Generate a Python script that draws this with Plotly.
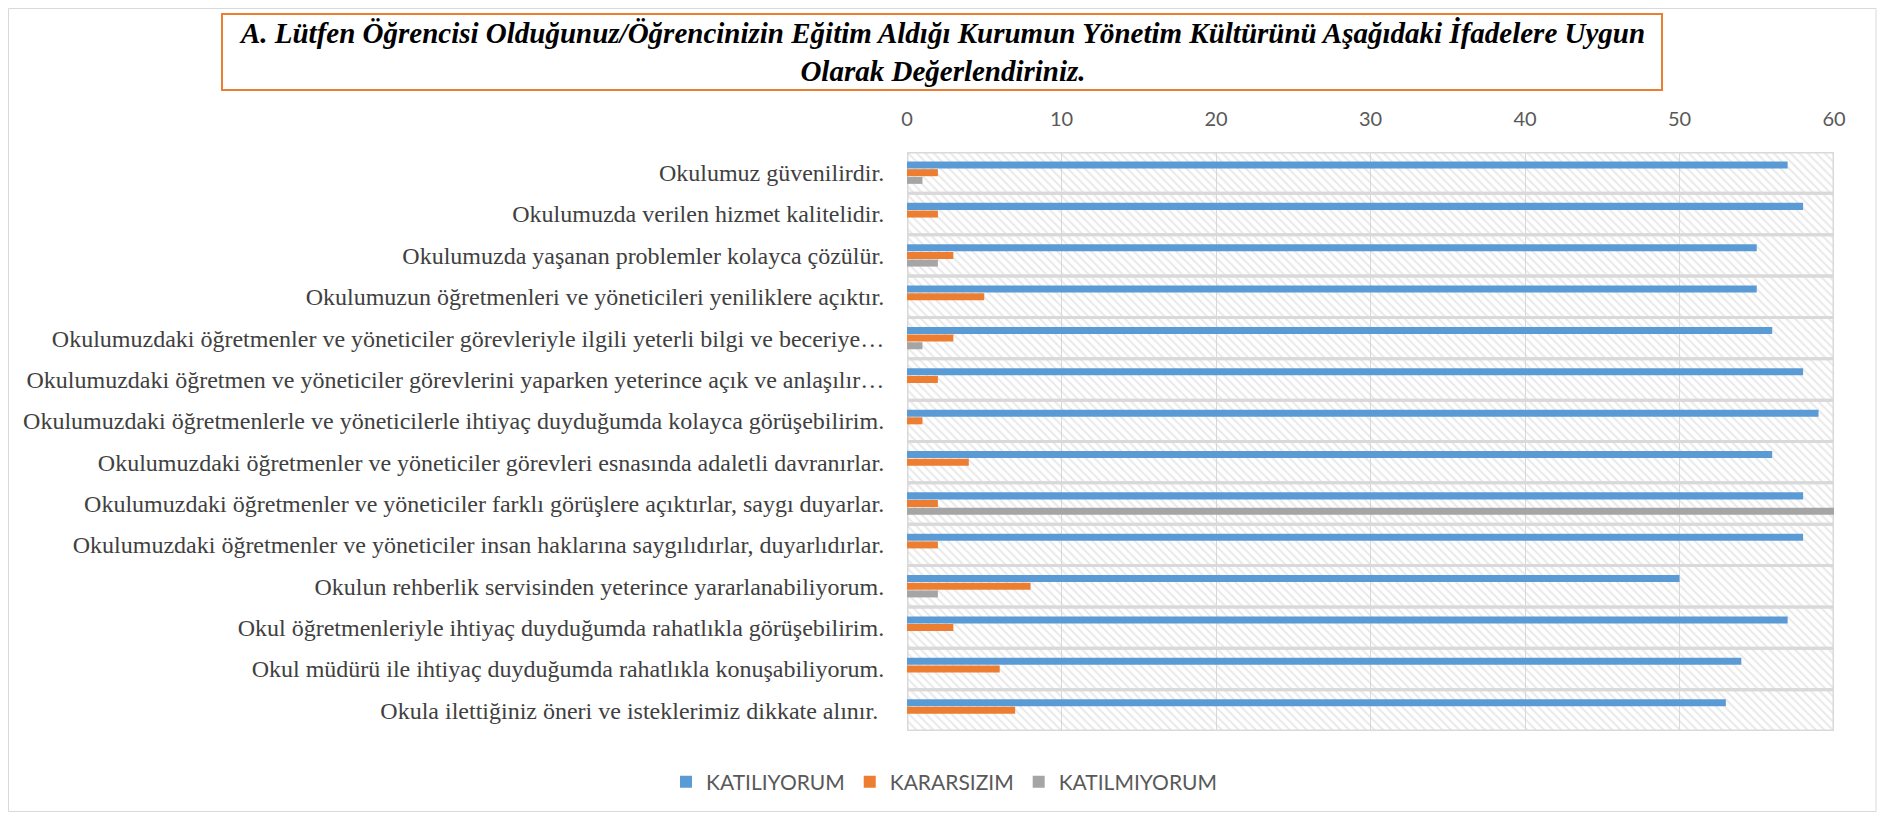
import plotly.graph_objects as go

categories = [
    "Okulumuz güvenilirdir.",
    "Okulumuzda verilen hizmet kalitelidir.",
    "Okulumuzda yaşanan problemler kolayca çözülür.",
    "Okulumuzun öğretmenleri ve yöneticileri yeniliklere açıktır.",
    "Okulumuzdaki öğretmenler ve yöneticiler görevleriyle ilgili yeterli bilgi ve beceriye…",
    "Okulumuzdaki öğretmen ve yöneticiler görevlerini yaparken yeterince açık ve anlaşılır…",
    "Okulumuzdaki öğretmenlerle ve yöneticilerle ihtiyaç duyduğumda kolayca görüşebilirim.",
    "Okulumuzdaki öğretmenler ve yöneticiler görevleri esnasında adaletli davranırlar.",
    "Okulumuzdaki öğretmenler ve yöneticiler farklı görüşlere açıktırlar, saygı duyarlar.",
    "Okulumuzdaki öğretmenler ve yöneticiler insan haklarına saygılıdırlar, duyarlıdırlar.",
    "Okulun rehberlik servisinden yeterince yararlanabiliyorum.",
    "Okul öğretmenleriyle ihtiyaç duyduğumda rahatlıkla görüşebilirim.",
    "Okul müdürü ile ihtiyaç duyduğumda rahatlıkla konuşabiliyorum.",
    "Okula ilettiğiniz öneri ve isteklerimiz dikkate alınır. ",
]
katiliyorum = [57, 58, 55, 55, 56, 58, 59, 56, 58, 58, 50, 57, 54, 53]
kararsizim = [2, 2, 3, 5, 3, 2, 1, 4, 2, 2, 8, 3, 6, 7]
katilmiyorum = [1, 0, 2, 0, 1, 0, 0, 0, 60, 0, 2, 0, 0, 0]

series_names = ["KATILIYORUM", "KARARSIZIM", "KATILMIYORUM"]
series_colors = ["#5B9BD5", "#ED7D31", "#A5A5A5"]
x_max = 60
x_ticks = [0, 10, 20, 30, 40, 50, 60]

# page has an 8px body margin; figure sized to fit inside the window
OFF = 8
W, H = 1888 - 2 * OFF, 820 - 2 * OFF
# plot area in page pixels
P_L, P_R, P_T, P_B = 907, 1834, 152, 731
ml = P_L - OFF
mr = W - (P_R - OFF)
mt = P_T - OFF
mb = H - (P_B - OFF)
pw, ph = W - ml - mr, H - mt - mb


def fx(page_x):
    return (page_x - OFF - ml) / pw


def fy(page_y):
    return (H - mb - (page_y - OFF)) / ph


fig = go.Figure()

# hatched plot-area background with band separators
fig.add_trace(go.Bar(
    y=categories, x=[x_max] * len(categories), orientation="h",
    width=1, offset=-0.5, showlegend=False, hoverinfo="skip",
    marker=dict(color="rgba(0,0,0,0)",
                line=dict(color="#D9D9D9", width=3),
                pattern=dict(shape="\\", fgcolor="#D4D4D4", bgcolor="rgba(0,0,0,0)",
                             size=6, solidity=0.35, fillmode="overlay")),
))

bar_w = 0.17
offsets = [-0.27, -0.085, 0.1]
for name, vals, col, off in zip(series_names, [katiliyorum, kararsizim, katilmiyorum], series_colors, offsets):
    fig.add_trace(go.Bar(
        y=categories, x=vals, orientation="h", name=name,
        width=bar_w, offset=off,
        marker=dict(color=col, line=dict(width=0)),
    ))

fig.update_layout(
    width=W, height=H,
    barmode="overlay",
    paper_bgcolor="white", plot_bgcolor="white",
    margin=dict(l=ml, r=mr, t=mt, b=mb, autoexpand=False),
    showlegend=True,
    legend=dict(orientation="h", xref="container", yref="container",
                x=0.5, xanchor="center", y=1 - (782 - OFF) / H, yanchor="middle",
                font=dict(family="Lato", size=21, color="#595959"),
                traceorder="normal", itemwidth=30),
    xaxis=dict(range=[0, x_max], side="top", tickvals=x_ticks,
               showgrid=True, gridcolor="#D9D9D9", gridwidth=1,
               zeroline=False, showline=False, automargin=False,
               ticks="outside", ticklen=17, tickcolor="rgba(0,0,0,0)",
               tickfont=dict(family="Lato", size=20, color="#595959")),
    yaxis=dict(autorange="reversed", type="category", showgrid=False, automargin=False,
               ticks="outside", ticklen=17, tickcolor="rgba(0,0,0,0)",
               tickfont=dict(family="Liberation Serif", size=24, color="#404040")),
    font=dict(family="Liberation Serif"),
)

# title box
fig.add_annotation(
    xref="paper", yref="paper", x=fx(942), y=fy(52),
    xanchor="center", yanchor="middle", showarrow=False,
    text="<b><i>A. Lütfen Öğrencisi Olduğunuz/Öğrencinizin Eğitim Aldığı Kurumun Yönetim Kültürünü Aşağıdaki İfadelere Uygun<br>Olarak Değerlendiriniz.</i></b>",
    font=dict(family="Liberation Serif", size=29, color="black"),
    align="center", width=1436, height=72,
    bordercolor="#ED7D31", borderwidth=2, borderpad=1, bgcolor="white",
)

# chart area border
fig.add_shape(type="rect", xref="paper", yref="paper",
              x0=fx(OFF + 0.5), x1=fx(1876), y0=fy(H + OFF - 0.5), y1=fy(OFF + 0.5),
              line=dict(color="#D9D9D9", width=1), fillcolor="rgba(0,0,0,0)", layer="below")

fig.write_html("out.html")
